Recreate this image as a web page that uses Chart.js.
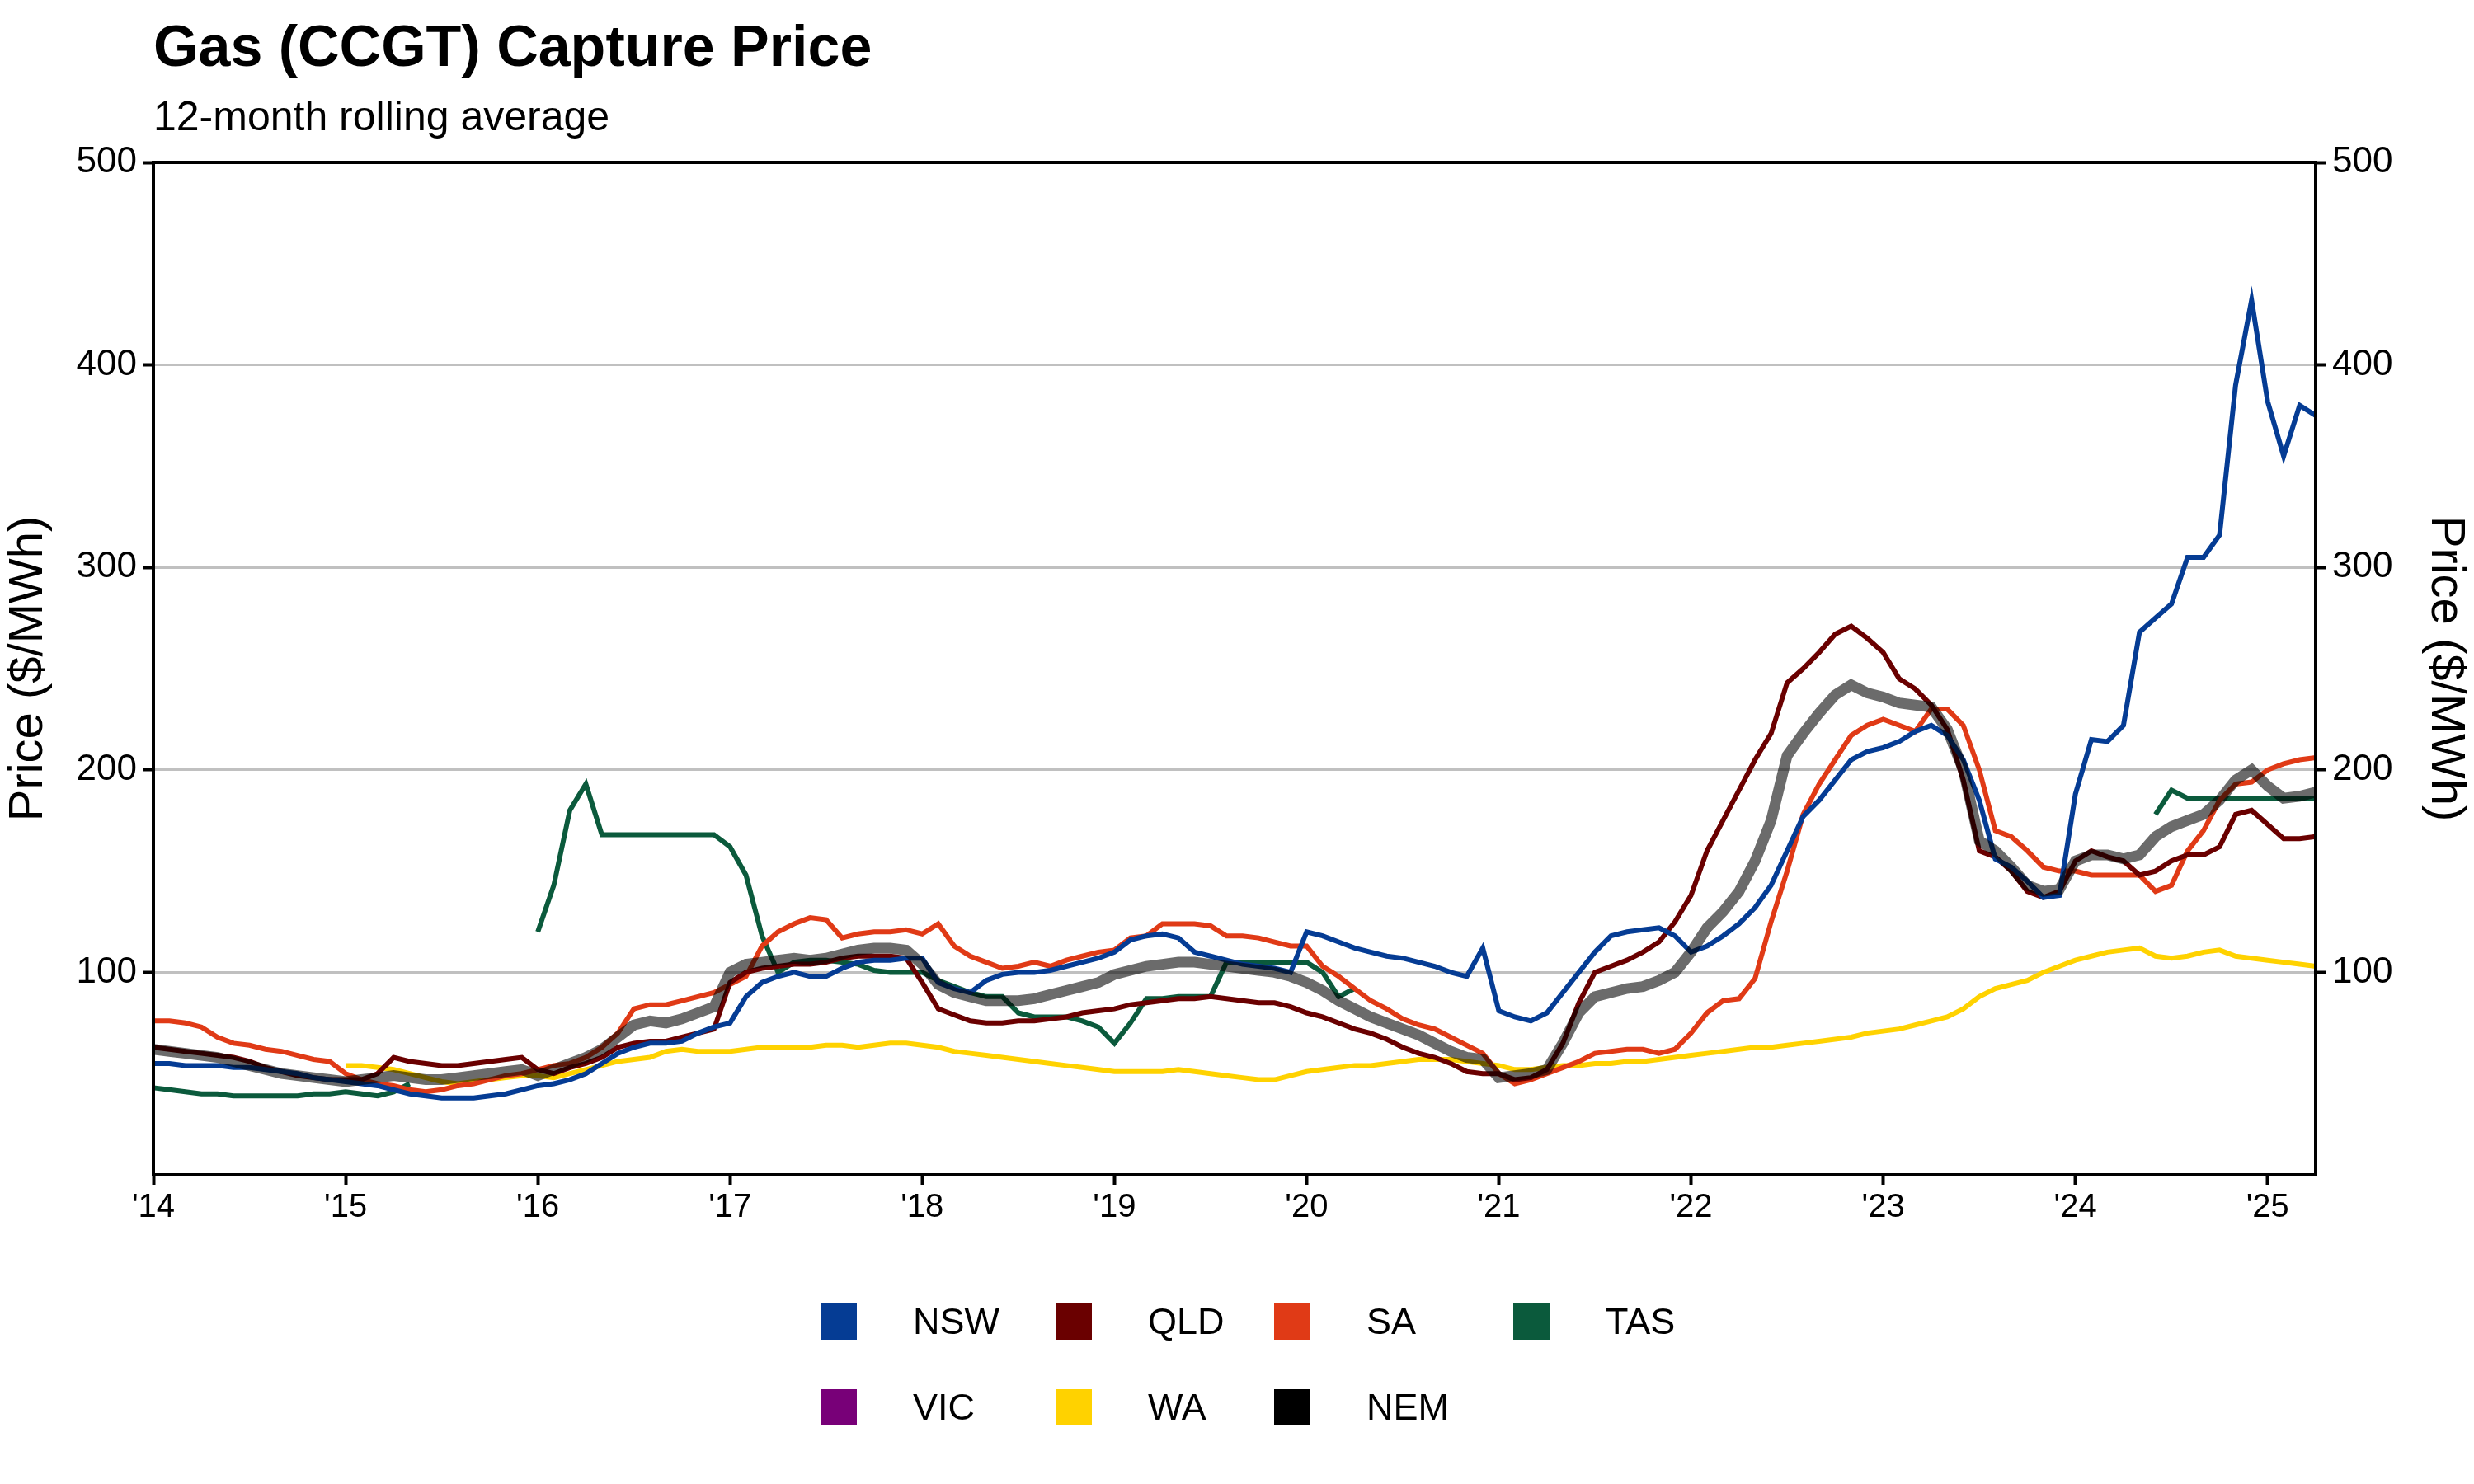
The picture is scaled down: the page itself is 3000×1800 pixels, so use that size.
<!DOCTYPE html>
<html>
<head>
<meta charset="utf-8">
<script src="https://cdn.jsdelivr.net/npm/chart.js@4.4.1/dist/chart.umd.min.js"></script>
<style>
  html, body { margin: 0; padding: 0; background: #fff; }
  #wrap { position: relative; width: 3000px; height: 1800px; font-family: 'Liberation Sans', Arial, sans-serif; }
  #titulo { position: absolute; left: 186px; top: 16px; font-size: 70px; font-weight: bold; color: #000; }
  #subtitulo { position: absolute; left: 186px; top: 112px; font-size: 50px; color: #000; }
  #legenda { position: absolute; left: 995px; top: 1570px; display: grid; grid-template-columns: 285px 265px 290px 280px; row-gap: 38px; }
  .item { display: flex; align-items: center; font-size: 45px; height: 66px; }
  .quad { width: 44px; height: 44px; margin-right: 68px; }
</style>
</head>
<body>
<div id="wrap">
  <div id="titulo">Gas (CCGT) Capture Price</div>
  <div id="subtitulo">12-month rolling average</div>
  <canvas id="grafico" width="3000" height="1800"></canvas>
  <div id="legenda"></div>
</div>
<script>
// meses de jan/2014 a abr/2025
const meses = [];
for (let a = 2014; a <= 2025; a++) {
  for (let m = 1; m <= 12; m++) {
    if (a === 2025 && m > 4) break;
    meses.push(a + '-' + String(m).padStart(2, '0'));
  }
}

const nsw = [
  55,55,54,54,54,53,53,52,51,50,48,47,
  46,45,44,42,40,39,38,38,38,39,40,42,
  44,45,47,50,55,60,63,65,65,66,70,73,
  75,88,95,98,100,98,98,102,105,106,106,107,
  107,95,92,90,96,99,100,100,101,103,105,107,
  110,116,118,119,117,110,108,106,104,103,102,100,
  120,118,115,112,110,108,107,105,103,100,98,112,
  81,78,76,80,90,100,110,118,120,121,122,118,
  110,113,118,124,132,143,160,177,185,195,205,209,
  211,214,219,222,217,205,185,156,152,145,137,138,
  188,215,214,222,268,275,282,305,305,316,390,432,
  382,355,380,375
];
const qld = [
  63,62,61,60,59,58,56,53,51,49,48,47,
  47,47,50,58,56,55,54,54,55,56,57,58,
  52,50,53,55,58,63,65,66,66,68,70,72,
  95,100,102,103,104,104,105,107,108,108,108,107,
  95,82,79,76,75,75,76,76,77,78,80,81,
  82,84,85,86,87,87,88,87,86,85,85,83,
  80,78,75,72,70,67,63,60,58,55,51,50,
  50,47,48,52,65,85,100,103,106,110,115,125,
  138,160,175,190,205,218,243,250,258,267,271,265,
  258,245,240,232,220,195,160,157,150,140,137,140,
  155,160,157,155,148,150,155,158,158,162,178,180,
  173,166,166,167
];
const sa = [
  76,76,75,73,68,65,64,62,61,59,57,56,
  50,47,45,44,42,41,42,44,45,47,49,50,
  52,54,55,58,63,70,82,84,84,86,88,90,
  94,98,113,120,124,127,126,117,119,120,120,121,
  119,124,113,108,105,102,103,105,103,106,108,110,
  111,117,118,124,124,124,123,118,118,117,115,113,
  113,103,98,92,86,82,77,74,72,68,64,60,
  50,45,47,50,53,56,60,61,62,62,60,62,
  70,80,86,87,97,125,150,178,193,205,217,222,
  225,222,219,230,230,222,200,170,167,160,152,150,
  150,148,148,148,148,140,143,160,170,185,193,194,
  200,203,205,206
];
const tas = [
  43,42,41,40,40,39,39,39,39,39,40,40,
  41,40,39,41,45,null,null,null,null,null,null,null,
  120,143,180,193,168,168,168,168,168,168,168,168,
  162,148,118,100,105,106,106,105,104,101,100,100,
  100,96,93,90,88,88,80,78,78,78,76,73,
  65,75,87,87,88,88,88,105,105,105,105,105,
  105,100,88,92,null,null,null,null,null,null,null,null,
  null,null,null,null,null,null,null,null,null,null,null,null,
  null,null,null,null,null,null,null,null,null,null,null,null,
  null,null,null,null,null,null,null,null,null,null,null,null,
  null,null,null,null,null,178,190,186,186,186,186,186,
  186,186,186,186
];
const vic = meses.map(() => null);
const wa = [
  null,null,null,null,null,null,null,null,null,null,null,null,
  54,54,53,52,50,48,46,45,46,47,48,49,
  49,48,50,52,54,56,57,58,61,62,61,61,
  61,62,63,63,63,63,64,64,63,64,65,65,
  64,63,61,60,59,58,57,56,55,54,53,52,
  51,51,51,51,52,51,50,49,48,47,47,49,
  51,52,53,54,54,55,56,57,57,57,56,55,
  54,52,52,53,54,54,55,55,56,56,57,58,
  59,60,61,62,63,63,64,65,66,67,68,70,
  71,72,74,76,78,82,88,92,94,96,100,103,
  106,108,110,111,112,108,107,108,110,111,108,107,
  106,105,104,103
];
const nem = [
  62,61,60,59,58,56,54,52,50,49,48,47,
  46,47,48,49,48,47,47,48,49,50,51,52,
  49,52,55,58,62,68,74,76,75,77,80,83,
  100,104,105,106,107,106,107,109,111,112,112,111,
  104,94,90,88,86,86,86,87,89,91,93,95,
  99,101,103,104,105,105,104,103,102,101,100,98,
  95,91,86,82,78,75,72,69,65,61,58,57,
  48,49,50,52,65,80,88,90,92,93,96,100,
  110,122,130,140,155,175,207,218,228,237,242,238,
  236,233,232,231,220,200,165,160,152,143,140,141,
  155,158,158,156,158,167,172,175,178,185,195,200,
  192,186,187,189
];

const regioes = ['NSW', 'QLD', 'SA', 'TAS', 'VIC', 'WA', 'NEM'];
const valores = [nsw, qld, sa, tas, vic, wa, nem];
const cores = ['#053c94', '#6a0000', '#e03a16', '#0b5a3c', '#780078', '#ffd200', '#000000'];

const datasets = regioes.map((r, i) => ({
  label: r,
  data: valores[i],
  borderColor: r === 'NEM' ? 'rgba(0,0,0,0.58)' : cores[i],
  borderWidth: r === 'NEM' ? 13 : 6,
  pointRadius: 0,
  fill: false,
  tension: 0,
  spanGaps: false,
  order: r === 'NEM' ? 0 : 1
}));

// moldura preta em volta da área do gráfico
const moldura = {
  id: 'moldura',
  afterDraw(chart) {
    const { ctx, chartArea: a } = chart;
    ctx.save();
    ctx.strokeStyle = '#000';
    ctx.lineWidth = 4;
    ctx.strokeRect(a.left, a.top, a.right - a.left, a.bottom - a.top);
    ctx.restore();
  }
};

const fonte = { family: "'Liberation Sans', Arial, sans-serif", size: 44 };

const eixoY = (pos) => ({
  position: pos,
  min: 0,
  max: 500,
  afterBuildTicks: (ax) => { ax.ticks = [100, 200, 300, 400, 500].map(v => ({ value: v })); },
  afterFit: (ax) => { ax.width = pos === 'left' ? 186 : 192; },
  ticks: { color: '#000', font: fonte, padding: 8 },
  grid: {
    display: true,
    drawOnChartArea: pos === 'left',
    color: '#c0c0c0',
    lineWidth: 3,
    tickColor: '#000',
    tickLength: 12,
    tickWidth: 4
  },
  border: { display: false },
  title: { display: true, text: 'Price ($/MWh)', color: '#000', font: { ...fonte, size: 58 }, padding: 0 }
});

new Chart(document.getElementById('grafico').getContext('2d'), {
  type: 'line',
  data: { labels: meses, datasets },
  options: {
    responsive: false,
    devicePixelRatio: 1,
    animation: false,
    layout: { padding: { top: 197 } },
    plugins: { legend: { display: false }, tooltip: { enabled: false } },
    scales: {
      x: {
        offset: false,
        afterFit: (ax) => { ax.height = 375; },
        ticks: {
          autoSkip: false,
          maxRotation: 0,
          color: '#000',
          font: { ...fonte, size: 40 },
          padding: 4,
          callback: (v, i) => meses[i].endsWith('-01') ? "'" + meses[i].slice(2, 4) : ''
        },
        grid: {
          drawOnChartArea: false,
          tickLength: 12,
          tickWidth: 4,
          tickColor: (c) => (c.tick && meses[c.index] && meses[c.index].endsWith('-01')) ? '#000' : 'rgba(0,0,0,0)'
        },
        border: { display: false }
      },
      y: eixoY('left'),
      y2: eixoY('right')
    }
  },
  plugins: [moldura]
});

const legenda = document.getElementById('legenda');
regioes.forEach((r, i) => {
  const item = document.createElement('div');
  item.className = 'item';
  item.innerHTML = '<span class="quad" style="background:' + cores[i] + '"></span>' + r;
  legenda.appendChild(item);
});
</script>
</body>
</html>
